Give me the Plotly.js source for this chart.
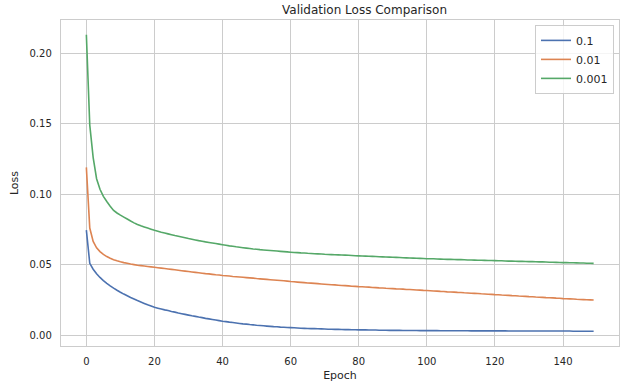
<!DOCTYPE html>
<html>
<head>
<meta charset="utf-8">
<script src="https://cdn.plot.ly/plotly-3.0.1.min.js"></script>
<style>
  html, body { margin: 0; padding: 0; background: #ffffff; }
  #chart { width: 625px; height: 386px; }
</style>
</head>
<body>
<div id="chart"></div>
<script>
// Legend labels (learning rates)
const seriesNames = ["0.1", "0.01", "0.001"];

// Validation loss per epoch, lr = 0.1
const lossLr0p1 = [
  0.0745, 0.0510, 0.0468, 0.0436, 0.0410, 0.0388, 0.0368, 0.0350, 0.0334, 0.0319,
  0.0305, 0.0292, 0.0280, 0.0268, 0.0257, 0.0246, 0.0236, 0.0226, 0.0216, 0.0207,
  0.0198, 0.0192, 0.0186, 0.0180, 0.0175, 0.0169, 0.0164, 0.0158, 0.0153, 0.0148,
  0.0143, 0.0138, 0.0134, 0.0129, 0.0125, 0.0120, 0.0116, 0.0112, 0.0108, 0.0104,
  0.0100, 0.0097, 0.0093, 0.0090, 0.0087, 0.0084, 0.0081, 0.0079, 0.0076, 0.0074,
  0.0071, 0.0069, 0.0067, 0.0065, 0.0063, 0.0061, 0.0060, 0.0058, 0.0057, 0.0055,
  0.0054, 0.0053, 0.0052, 0.0050, 0.0049, 0.0048, 0.0047, 0.0047, 0.0046, 0.0045,
  0.0044, 0.0043, 0.0043, 0.0042, 0.0042, 0.0041, 0.0040, 0.0040, 0.0039, 0.0039,
  0.0038, 0.0038, 0.0038, 0.0037, 0.0037, 0.0037, 0.0036, 0.0036, 0.0036, 0.0035,
  0.0035, 0.0035, 0.0035, 0.0034, 0.0034, 0.0034, 0.0034, 0.0034, 0.0033, 0.0033,
  0.0033, 0.0033, 0.0033, 0.0033, 0.0032, 0.0032, 0.0032, 0.0032, 0.0032, 0.0032,
  0.0032, 0.0032, 0.0032, 0.0031, 0.0031, 0.0031, 0.0031, 0.0031, 0.0031, 0.0031,
  0.0031, 0.0031, 0.0031, 0.0031, 0.0030, 0.0030, 0.0030, 0.0030, 0.0030, 0.0030,
  0.0030, 0.0030, 0.0030, 0.0030, 0.0030, 0.0030, 0.0030, 0.0030, 0.0030, 0.0030,
  0.0030, 0.0030, 0.0030, 0.0029, 0.0029, 0.0029, 0.0029, 0.0029, 0.0029, 0.0029
];

// Validation loss per epoch, lr = 0.01
const lossLr0p01 = [
  0.1190, 0.0760, 0.0665, 0.0620, 0.0593, 0.0573, 0.0558, 0.0546, 0.0536, 0.0528,
  0.0521, 0.0515, 0.0510, 0.0505, 0.0501, 0.0497, 0.0494, 0.0491, 0.0488, 0.0485,
  0.0482, 0.0479, 0.0476, 0.0473, 0.0470, 0.0467, 0.0464, 0.0461, 0.0458, 0.0455,
  0.0452, 0.0449, 0.0446, 0.0443, 0.0440, 0.0437, 0.0435, 0.0432, 0.0429, 0.0427,
  0.0424, 0.0422, 0.0420, 0.0417, 0.0415, 0.0413, 0.0411, 0.0409, 0.0407, 0.0405,
  0.0402, 0.0400, 0.0398, 0.0396, 0.0394, 0.0392, 0.0390, 0.0388, 0.0386, 0.0384,
  0.0381, 0.0379, 0.0377, 0.0375, 0.0373, 0.0371, 0.0370, 0.0368, 0.0366, 0.0364,
  0.0362, 0.0360, 0.0358, 0.0357, 0.0355, 0.0353, 0.0352, 0.0350, 0.0348, 0.0347,
  0.0345, 0.0344, 0.0342, 0.0341, 0.0339, 0.0338, 0.0336, 0.0335, 0.0333, 0.0332,
  0.0331, 0.0329, 0.0328, 0.0327, 0.0325, 0.0324, 0.0323, 0.0321, 0.0320, 0.0318,
  0.0317, 0.0316, 0.0314, 0.0313, 0.0311, 0.0310, 0.0308, 0.0307, 0.0306, 0.0304,
  0.0303, 0.0301, 0.0300, 0.0298, 0.0297, 0.0296, 0.0294, 0.0293, 0.0291, 0.0290,
  0.0288, 0.0287, 0.0285, 0.0284, 0.0283, 0.0281, 0.0280, 0.0278, 0.0277, 0.0276,
  0.0274, 0.0273, 0.0271, 0.0270, 0.0269, 0.0267, 0.0266, 0.0265, 0.0263, 0.0262,
  0.0260, 0.0259, 0.0258, 0.0257, 0.0255, 0.0254, 0.0253, 0.0252, 0.0251, 0.0250
];

// Validation loss per epoch, lr = 0.001
const lossLr0p001 = [
  0.2130, 0.1490, 0.1260, 0.1110, 0.1035, 0.0985, 0.0948, 0.0915, 0.0885, 0.0867,
  0.0852, 0.0838, 0.0824, 0.0810, 0.0797, 0.0785, 0.0776, 0.0768, 0.0760, 0.0752,
  0.0744, 0.0738, 0.0731, 0.0725, 0.0719, 0.0713, 0.0707, 0.0702, 0.0697, 0.0692,
  0.0686, 0.0681, 0.0676, 0.0671, 0.0667, 0.0662, 0.0658, 0.0654, 0.0650, 0.0646,
  0.0642, 0.0638, 0.0634, 0.0631, 0.0627, 0.0624, 0.0621, 0.0618, 0.0615, 0.0612,
  0.0610, 0.0607, 0.0605, 0.0603, 0.0601, 0.0599, 0.0597, 0.0595, 0.0593, 0.0591,
  0.0589, 0.0587, 0.0586, 0.0584, 0.0583, 0.0581, 0.0580, 0.0578, 0.0577, 0.0576,
  0.0574, 0.0573, 0.0572, 0.0571, 0.0570, 0.0569, 0.0568, 0.0567, 0.0566, 0.0564,
  0.0563, 0.0562, 0.0561, 0.0560, 0.0559, 0.0558, 0.0557, 0.0556, 0.0555, 0.0554,
  0.0553, 0.0552, 0.0551, 0.0550, 0.0549, 0.0548, 0.0547, 0.0546, 0.0545, 0.0544,
  0.0543, 0.0542, 0.0542, 0.0541, 0.0540, 0.0539, 0.0538, 0.0538, 0.0537, 0.0536,
  0.0536, 0.0535, 0.0534, 0.0534, 0.0533, 0.0532, 0.0532, 0.0531, 0.0530, 0.0530,
  0.0529, 0.0528, 0.0528, 0.0527, 0.0526, 0.0526, 0.0525, 0.0524, 0.0524, 0.0523,
  0.0522, 0.0522, 0.0521, 0.0520, 0.0520, 0.0519, 0.0518, 0.0518, 0.0517, 0.0516,
  0.0515, 0.0515, 0.0514, 0.0514, 0.0513, 0.0512, 0.0512, 0.0511, 0.0511, 0.0510
];

// Tick values / labels
const xTickVals = [0, 20, 40, 60, 80, 100, 120, 140];
const yTickVals = [0.00, 0.05, 0.10, 0.15, 0.20];
const yTickText = ["0.00", "0.05", "0.10", "0.15", "0.20"];

const epochs = lossLr0p1.map((_, i) => i);
const seriesValues = [lossLr0p1, lossLr0p01, lossLr0p001];
const colors = ["#4c72b0", "#dd8452", "#55a868"];

const traces = seriesValues.map((vals, k) => ({
  type: "scatter",
  mode: "lines",
  x: epochs,
  y: vals,
  name: seriesNames[k],
  line: { color: colors[k], width: 1.6, simplify: false }
}));

const allVals = [].concat(...seriesValues);
const yMin = Math.min(...allVals), yMax = Math.max(...allVals);
const yPad = (yMax - yMin) * 0.05;
const xMax = epochs[epochs.length - 1];
const xPad = xMax * 0.05;

const textColor = "#262626";
const gridColor = "#cccccc";
const fontFamily = "DejaVu Sans, sans-serif";

const layout = {
  width: 625,
  height: 386,
  margin: { l: 61, r: 6, t: 20, b: 40 },
  paper_bgcolor: "#ffffff",
  plot_bgcolor: "#ffffff",
  font: { family: fontFamily, color: textColor, size: 10 },
  title: {
    text: "Validation Loss Comparison",
    font: { size: 12, color: textColor, family: fontFamily },
    x: 0.5440, xanchor: "center",
    y: 0.975, yanchor: "middle",
    xref: "paper"
  },
  xaxis: {
    range: [-xPad, xMax + xPad],
    tickmode: "array",
    tickvals: xTickVals,
    ticktext: xTickVals.map(String),
    showgrid: true,
    gridcolor: gridColor,
    gridwidth: 1,
    zeroline: false,
    showline: true,
    mirror: true,
    linecolor: gridColor,
    linewidth: 1.25,
    ticks: "outside",
    ticklen: 6,
    tickcolor: "rgba(0,0,0,0)",
    tickfont: { size: 10, color: textColor },
    title: { text: "Epoch", font: { size: 11, color: textColor }, standoff: 5 }
  },
  yaxis: {
    range: [yMin - yPad, yMax + yPad],
    tickmode: "array",
    tickvals: yTickVals,
    ticktext: yTickText,
    showgrid: true,
    gridcolor: gridColor,
    gridwidth: 1,
    zeroline: false,
    showline: true,
    mirror: true,
    linecolor: gridColor,
    linewidth: 1.25,
    ticks: "outside",
    ticklen: 6,
    tickcolor: "rgba(0,0,0,0)",
    tickfont: { size: 10, color: textColor },
    title: { text: "Loss", font: { size: 11, color: textColor }, standoff: 8 }
  },
  legend: {
    x: 0.991, xanchor: "right",
    y: 0.985, yanchor: "top",
    bgcolor: "rgba(255,255,255,0.8)",
    bordercolor: gridColor,
    borderwidth: 1,
    font: { size: 11, color: textColor },
    itemwidth: 30,
    tracegroupgap: 0
  },
  showlegend: true
};

Plotly.newPlot("chart", traces, layout, { staticPlot: true, displayModeBar: false });
</script>
</body>
</html>
